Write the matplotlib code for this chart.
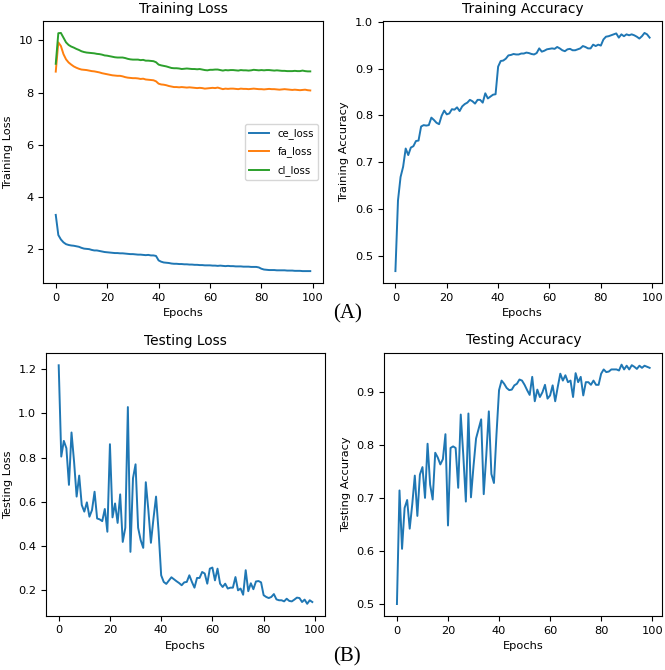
import matplotlib
matplotlib.use("Agg")
import matplotlib.pyplot as plt

# epochs 0..99
epochs = list(range(100))

ce_loss = [3.32, 2.55, 2.38, 2.27, 2.20, 2.17, 2.15, 2.14, 2.12, 2.10,
           2.06, 2.03, 2.02, 2.01, 1.98, 1.96, 1.96, 1.94, 1.92, 1.90,
           1.89, 1.88, 1.87, 1.86, 1.86, 1.85, 1.85, 1.84, 1.83, 1.82,
           1.82, 1.81, 1.80, 1.80, 1.79, 1.78, 1.79, 1.77, 1.77, 1.75,
           1.58, 1.53, 1.50, 1.49, 1.48, 1.46, 1.45, 1.45, 1.44, 1.44,
           1.43, 1.43, 1.42, 1.42, 1.41, 1.41, 1.40, 1.40, 1.39, 1.39,
           1.39, 1.38, 1.38, 1.37, 1.38, 1.37, 1.36, 1.37, 1.36, 1.36,
           1.35, 1.35, 1.35, 1.34, 1.34, 1.34, 1.33, 1.33, 1.33, 1.31,
           1.26, 1.23, 1.22, 1.21, 1.21, 1.21, 1.20, 1.20, 1.20, 1.20,
           1.19, 1.19, 1.19, 1.18, 1.18, 1.18, 1.17, 1.17, 1.17, 1.17]

fa_loss = [8.80, 9.92, 9.78, 9.47, 9.27, 9.15, 9.07, 9.00, 8.95, 8.91,
           8.88, 8.87, 8.86, 8.84, 8.82, 8.81, 8.79, 8.77, 8.74, 8.72,
           8.70, 8.68, 8.66, 8.65, 8.64, 8.64, 8.62, 8.59, 8.57, 8.56,
           8.55, 8.55, 8.54, 8.52, 8.53, 8.50, 8.49, 8.48, 8.47, 8.43,
           8.34, 8.31, 8.30, 8.28, 8.25, 8.23, 8.21, 8.21, 8.20, 8.21,
           8.20, 8.19, 8.20, 8.19, 8.18, 8.17, 8.18, 8.17, 8.15, 8.16,
           8.17, 8.18, 8.17, 8.19, 8.16, 8.13, 8.15, 8.14, 8.15, 8.15,
           8.14, 8.13, 8.15, 8.14, 8.14, 8.13, 8.14, 8.15, 8.14, 8.13,
           8.13, 8.12, 8.13, 8.14, 8.13, 8.13, 8.12, 8.11, 8.12, 8.13,
           8.12, 8.11, 8.10, 8.11, 8.10, 8.09, 8.10, 8.11, 8.09, 8.08]

cl_loss = [9.10, 10.27, 10.28, 10.10, 9.92, 9.82, 9.76, 9.72, 9.67, 9.63,
           9.58, 9.55, 9.53, 9.52, 9.51, 9.50, 9.48, 9.47, 9.45, 9.42,
           9.41, 9.39, 9.37, 9.35, 9.34, 9.34, 9.34, 9.32, 9.29, 9.27,
           9.26, 9.26, 9.26, 9.24, 9.25, 9.22, 9.22, 9.21, 9.20, 9.16,
           9.07, 9.04, 9.02, 9.00, 8.97, 8.94, 8.93, 8.93, 8.92, 8.90,
           8.91, 8.92, 8.91, 8.90, 8.90, 8.89, 8.90, 8.88, 8.86, 8.85,
           8.87, 8.87, 8.88, 8.88, 8.86, 8.84, 8.86, 8.85, 8.86, 8.86,
           8.85, 8.84, 8.86, 8.85, 8.85, 8.84, 8.85, 8.87, 8.86, 8.85,
           8.86, 8.85, 8.86, 8.86, 8.85, 8.84, 8.85, 8.84, 8.83, 8.83,
           8.82, 8.82, 8.82, 8.83, 8.82, 8.82, 8.84, 8.82, 8.81, 8.81]

train_acc = [0.467, 0.618, 0.668, 0.690, 0.729, 0.715, 0.731, 0.734, 0.745, 0.746,
             0.776, 0.779, 0.778, 0.779, 0.795, 0.790, 0.784, 0.781, 0.799, 0.810,
             0.802, 0.804, 0.813, 0.812, 0.817, 0.809, 0.819, 0.824, 0.827, 0.833,
             0.830, 0.825, 0.833, 0.833, 0.827, 0.847, 0.836, 0.840, 0.844, 0.845,
             0.904, 0.916, 0.917, 0.921, 0.928, 0.929, 0.931, 0.930, 0.930, 0.932,
             0.932, 0.934, 0.933, 0.931, 0.930, 0.933, 0.943, 0.936, 0.938, 0.941,
             0.942, 0.943, 0.942, 0.946, 0.943, 0.939, 0.937, 0.941, 0.942, 0.939,
             0.939, 0.941, 0.943, 0.948, 0.946, 0.943, 0.943, 0.951, 0.948, 0.951,
             0.949, 0.962, 0.968, 0.969, 0.971, 0.973, 0.975, 0.966, 0.973, 0.969,
             0.973, 0.971, 0.973, 0.971, 0.968, 0.964, 0.969, 0.976, 0.973, 0.966]

test_loss = [1.218, 0.805, 0.876, 0.843, 0.677, 0.914, 0.782, 0.624, 0.719, 0.586,
             0.556, 0.598, 0.533, 0.563, 0.646, 0.525, 0.521, 0.513, 0.568, 0.465,
             0.861, 0.530, 0.593, 0.505, 0.634, 0.419, 0.483, 1.029, 0.374, 0.707,
             0.770, 0.483, 0.427, 0.392, 0.689, 0.563, 0.415, 0.525, 0.624, 0.465,
             0.268, 0.238, 0.229, 0.244, 0.259, 0.250, 0.241, 0.233, 0.223, 0.236,
             0.238, 0.268, 0.238, 0.212, 0.256, 0.256, 0.283, 0.276, 0.230, 0.298,
             0.303, 0.245, 0.298, 0.230, 0.215, 0.230, 0.208, 0.212, 0.212, 0.260,
             0.200, 0.208, 0.180, 0.291, 0.196, 0.232, 0.205, 0.240, 0.242, 0.236,
             0.178, 0.170, 0.165, 0.170, 0.183, 0.159, 0.155, 0.155, 0.150, 0.162,
             0.152, 0.150, 0.158, 0.167, 0.165, 0.147, 0.158, 0.139, 0.155, 0.147]

test_acc = [0.500, 0.714, 0.604, 0.681, 0.696, 0.642, 0.688, 0.742, 0.666, 0.744,
            0.758, 0.700, 0.802, 0.725, 0.697, 0.785, 0.776, 0.763, 0.773, 0.820,
            0.648, 0.794, 0.797, 0.794, 0.719, 0.857, 0.780, 0.693, 0.859, 0.701,
            0.760, 0.812, 0.830, 0.848, 0.707, 0.780, 0.863, 0.745, 0.728, 0.820,
            0.903, 0.921, 0.915, 0.907, 0.903, 0.904, 0.912, 0.915, 0.923, 0.921,
            0.913, 0.903, 0.894, 0.928, 0.882, 0.904, 0.890, 0.899, 0.913, 0.887,
            0.893, 0.912, 0.882, 0.909, 0.934, 0.921, 0.931, 0.918, 0.921, 0.890,
            0.935, 0.918, 0.928, 0.893, 0.918, 0.918, 0.913, 0.921, 0.913, 0.913,
            0.934, 0.942, 0.937, 0.938, 0.942, 0.942, 0.942, 0.940, 0.951, 0.942,
            0.949, 0.942, 0.950, 0.947, 0.943, 0.949, 0.945, 0.949, 0.947, 0.945]

plt.rcParams['font.size'] = 8.2
plt.rcParams['lines.linewidth'] = 1.4

fig = plt.figure(figsize=(6.65, 6.7), dpi=100)

ax1 = fig.add_axes([0.0647, 0.5776, 0.421, 0.391])
ax1.plot(epochs, ce_loss, label='ce_loss')
ax1.plot(epochs, fa_loss, label='fa_loss')
ax1.plot(epochs, cl_loss, label='cl_loss')
ax1.set_title('Training Loss', fontsize=9.9)
ax1.set_xlabel('Epochs')
ax1.set_ylabel('Training Loss')
ax1.legend(loc='center right', fontsize=7.3, labelspacing=0.75)

ax2 = fig.add_axes([0.5755, 0.5776, 0.4205, 0.391])
ax2.plot(epochs, train_acc)
ax2.set_title('Training Accuracy', fontsize=9.9)
ax2.set_xlabel('Epochs')
ax2.set_ylabel('Training Accuracy')

ax3 = fig.add_axes([0.0692, 0.081, 0.4195, 0.3916])
ax3.plot(epochs, test_loss)
ax3.set_title('Testing Loss', fontsize=9.9)
ax3.set_xlabel('Epochs')
ax3.set_ylabel('Testing Loss')

ax4 = fig.add_axes([0.5779, 0.0806, 0.418, 0.393])
ax4.plot(epochs, test_acc)
ax4.set_title('Testing Accuracy', fontsize=9.9)
ax4.set_xlabel('Epochs')
ax4.set_ylabel('Testing Accuracy')

fig.text(0.522, 0.532, '(A)', family='Liberation Serif', fontsize=15,
         ha='center', va='center')
fig.text(0.522, 0.019, '(B)', family='Liberation Serif', fontsize=15,
         ha='center', va='center')

fig.savefig('out.png', dpi=100)
